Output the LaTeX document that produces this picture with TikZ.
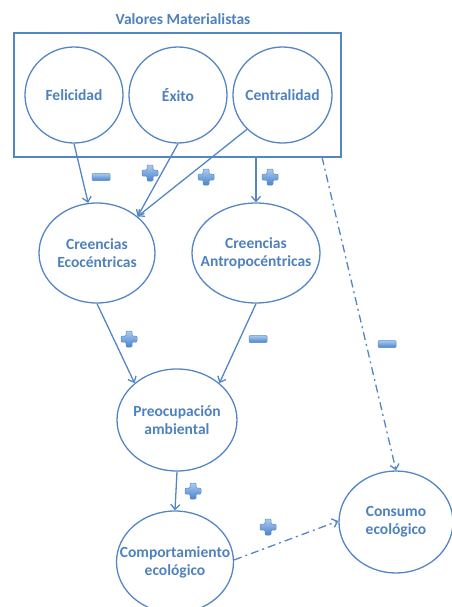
\documentclass[tikz,border=0pt]{standalone}
\usepackage{fontspec}
\setmainfont{Carlito}
\usetikzlibrary{shapes.geometric,arrows.meta}
\definecolor{lc}{RGB}{84,134,196}
\definecolor{tc}{RGB}{79,129,189}
\definecolor{sgtop}{RGB}{170,202,238}
\definecolor{sgbot}{RGB}{74,132,206}
\definecolor{sgdraw}{RGB}{92,140,200}
\tikzset{
  ell/.style={draw=lc, line width=1.3pt, ellipse, inner sep=0pt},
  txt/.style={text=tc, font=\fontsize{15.5}{18}\selectfont\bfseries, align=center, inner sep=0pt},
  arr/.style={draw=lc, line width=1.3pt, -{Straight Barb[length=5pt,width=9pt,line width=1.3pt]}},
  dashdot/.style={arr, dash pattern=on 8pt off 4pt on 2pt off 4pt},
  signstyle/.style={top color=sgtop, bottom color=sgbot, draw=sgdraw, line width=0.5pt, rounded corners=1pt},
  plussgn/.pic={\path[signstyle] (-3,-8)--(3,-8)--(3,-3)--(8,-3)--(8,3)--(3,3)--(3,8)--(-3,8)--(-3,3)--(-8,3)--(-8,-3)--(-3,-3)--cycle;},
  minussgn/.pic={\path[signstyle] (-9,-3.5) rectangle (9,3.5);}
}
\begin{document}
\begin{tikzpicture}[x=1pt,y=-1pt]
\useasboundingbox (0,0) rectangle (451,607);
% title and box
\node[txt] (title) at (183,19) {Valores Materialistas};
\node[draw=lc, line width=1.3pt, minimum width=327pt, minimum height=124pt, inner sep=0pt] (vm) at (177.5,95) {};
% top circles
\node[ell, minimum width=98pt, minimum height=96pt] (fel) at (74,95) {};
\node[txt] (felt) at (fel) {Felicidad};
\node[ell, minimum width=98pt, minimum height=96pt] (exi) at (178,95) {};
\node[txt] (exit) at (exi) {Éxito};
\node[ell, minimum width=99pt, minimum height=96pt] (cen) at (282.5,95) {};
\node[txt] (cent) at (cen) {Centralidad};
% middle
\node[ell, minimum width=116pt, minimum height=100pt] (eco) at (97,253) {};
\node[txt] (ecot) at (eco) {Creencias\\Ecocéntricas};
\node[ell, minimum width=128pt, minimum height=100pt] (ant) at (256,253) {};
\node[txt] (antt) at (ant) {Creencias\\Antropocéntricas};
\node[ell, minimum width=120pt, minimum height=102pt] (pre) at (177,420) {};
\node[txt] (pret) at (pre) {Preocupación\\ambiental};
\node[ell, minimum width=117pt, minimum height=102pt] (com) at (175,562) {};
\node[txt] (comt) at (com) {Comportamiento\\ecológico};
\node[ell, minimum width=114pt, minimum height=102pt] (con) at (396,522) {};
\node[txt] (cont) at (con) {Consumo\\ecológico};
% free ends on the box
\coordinate (vmc) at (256,157);
\coordinate (vmd) at (322,157);
% connectors
\draw[arr] (fel.south) -- (eco.100);
\draw[arr] (exi.south) -- (eco.42);
\draw[arr] (cen.224) -- (eco.42);
\draw[arr] (vmc) -- (ant.north);
\draw[arr] (eco.south) -- (pre.139);
\draw[arr] (ant.south) -- (pre.41);
\draw[arr] (pre.south) -- (com.north);
\draw[dashdot] (vmd) -- (con.north);
\draw[dashdot] (com.2) -- (con.179);
% signs
\pic at (101,177) {minussgn};
\pic at (150,173) {plussgn};
\pic at (206,177) {plussgn};
\pic at (270,177) {plussgn};
\pic at (129,339) {plussgn};
\pic at (258,339) {minussgn};
\pic at (387,344) {minussgn};
\pic at (193,491) {plussgn};
\pic at (268,527) {plussgn};
\end{tikzpicture}
\end{document}
